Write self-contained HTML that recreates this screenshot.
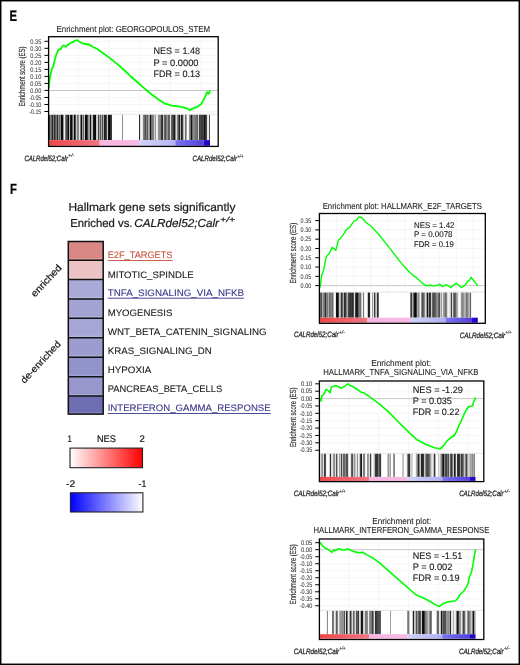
<!DOCTYPE html>
<html><head><meta charset="utf-8"><style>
html,body{margin:0;padding:0;background:#fff;}
body{width:520px;height:665px;overflow:hidden;}
svg{display:block;font-family:"Liberation Sans", sans-serif;text-rendering:geometricPrecision;will-change:transform;}
</style></head><body>
<svg width="520" height="665" viewBox="0 0 520 665">
<line x1="48.60" y1="41.30" x2="218.20" y2="41.30" stroke="#f2f2f2" stroke-width="0.7"/>
<line x1="48.60" y1="48.32" x2="218.20" y2="48.32" stroke="#f2f2f2" stroke-width="0.7"/>
<line x1="48.60" y1="55.34" x2="218.20" y2="55.34" stroke="#f2f2f2" stroke-width="0.7"/>
<line x1="48.60" y1="62.36" x2="218.20" y2="62.36" stroke="#f2f2f2" stroke-width="0.7"/>
<line x1="48.60" y1="69.38" x2="218.20" y2="69.38" stroke="#f2f2f2" stroke-width="0.7"/>
<line x1="48.60" y1="76.40" x2="218.20" y2="76.40" stroke="#f2f2f2" stroke-width="0.7"/>
<line x1="48.60" y1="83.42" x2="218.20" y2="83.42" stroke="#f2f2f2" stroke-width="0.7"/>
<line x1="48.60" y1="97.46" x2="218.20" y2="97.46" stroke="#f2f2f2" stroke-width="0.7"/>
<line x1="48.60" y1="104.48" x2="218.20" y2="104.48" stroke="#f2f2f2" stroke-width="0.7"/>
<line x1="48.60" y1="111.50" x2="218.20" y2="111.50" stroke="#f2f2f2" stroke-width="0.7"/>
<line x1="78.40" y1="36.70" x2="78.40" y2="114.80" stroke="#f2f2f2" stroke-width="0.7"/>
<line x1="109.05" y1="36.70" x2="109.05" y2="114.80" stroke="#f2f2f2" stroke-width="0.7"/>
<line x1="139.70" y1="36.70" x2="139.70" y2="114.80" stroke="#f2f2f2" stroke-width="0.7"/>
<line x1="170.35" y1="36.70" x2="170.35" y2="114.80" stroke="#f2f2f2" stroke-width="0.7"/>
<line x1="201.00" y1="36.70" x2="201.00" y2="114.80" stroke="#f2f2f2" stroke-width="0.7"/>
<line x1="48.60" y1="114.30" x2="218.20" y2="114.30" stroke="#dcdcdc" stroke-width="0.8"/>
<line x1="48.60" y1="90.50" x2="218.20" y2="90.50" stroke="#b8b8b8" stroke-width="0.8"/>
<rect x="49.00" y="114.80" width="1.00" height="25.30" fill="#3c3c3c"/>
<rect x="50.00" y="114.80" width="1.00" height="25.30" fill="#828282"/>
<rect x="51.00" y="114.80" width="1.00" height="25.30" fill="#646464"/>
<rect x="52.00" y="114.80" width="1.00" height="25.30" fill="#282828"/>
<rect x="53.00" y="114.80" width="1.00" height="25.30" fill="#787878"/>
<rect x="54.00" y="114.80" width="1.00" height="25.30" fill="#323232"/>
<rect x="55.00" y="114.80" width="1.00" height="25.30" fill="#5a5a5a"/>
<rect x="56.00" y="114.80" width="1.00" height="25.30" fill="#787878"/>
<rect x="57.00" y="114.80" width="1.00" height="25.30" fill="#282828"/>
<rect x="58.00" y="114.80" width="1.00" height="25.30" fill="#969696"/>
<rect x="59.00" y="114.80" width="1.00" height="25.30" fill="#646464"/>
<rect x="60.00" y="114.80" width="1.00" height="25.30" fill="#8c8c8c"/>
<rect x="61.00" y="114.80" width="1.00" height="25.30" fill="#0a0a0a"/>
<rect x="62.00" y="114.80" width="1.00" height="25.30" fill="#0a0a0a"/>
<rect x="63.00" y="114.80" width="1.00" height="25.30" fill="#969696"/>
<rect x="64.00" y="114.80" width="1.00" height="25.30" fill="#f0f0f0"/>
<rect x="65.00" y="114.80" width="1.00" height="25.30" fill="#787878"/>
<rect x="66.00" y="114.80" width="1.00" height="25.30" fill="#505050"/>
<rect x="67.00" y="114.80" width="1.00" height="25.30" fill="#3c3c3c"/>
<rect x="68.00" y="114.80" width="1.00" height="25.30" fill="#0a0a0a"/>
<rect x="69.00" y="114.80" width="1.00" height="25.30" fill="#b4b4b4"/>
<rect x="70.00" y="114.80" width="1.00" height="25.30" fill="#1e1e1e"/>
<rect x="71.00" y="114.80" width="1.00" height="25.30" fill="#0a0a0a"/>
<rect x="72.00" y="114.80" width="1.00" height="25.30" fill="#646464"/>
<rect x="73.00" y="114.80" width="1.00" height="25.30" fill="#aaaaaa"/>
<rect x="74.00" y="114.80" width="1.00" height="25.30" fill="#0a0a0a"/>
<rect x="75.00" y="114.80" width="1.00" height="25.30" fill="#505050"/>
<rect x="76.00" y="114.80" width="1.00" height="25.30" fill="#c8c8c8"/>
<rect x="77.00" y="114.80" width="1.00" height="25.30" fill="#828282"/>
<rect x="78.00" y="114.80" width="1.00" height="25.30" fill="#8c8c8c"/>
<rect x="79.00" y="114.80" width="1.00" height="25.30" fill="#e6e6e6"/>
<rect x="80.00" y="114.80" width="1.00" height="25.30" fill="#787878"/>
<rect x="81.00" y="114.80" width="1.00" height="25.30" fill="#0a0a0a"/>
<rect x="82.00" y="114.80" width="1.00" height="25.30" fill="#a0a0a0"/>
<rect x="83.00" y="114.80" width="1.00" height="25.30" fill="#646464"/>
<rect x="84.00" y="114.80" width="1.00" height="25.30" fill="#c8c8c8"/>
<rect x="85.00" y="114.80" width="1.00" height="25.30" fill="#0a0a0a"/>
<rect x="86.00" y="114.80" width="1.00" height="25.30" fill="#0a0a0a"/>
<rect x="87.00" y="114.80" width="1.00" height="25.30" fill="#3c3c3c"/>
<rect x="88.00" y="114.80" width="1.00" height="25.30" fill="#969696"/>
<rect x="89.00" y="114.80" width="1.00" height="25.30" fill="#a0a0a0"/>
<rect x="90.00" y="114.80" width="1.00" height="25.30" fill="#141414"/>
<rect x="91.00" y="114.80" width="1.00" height="25.30" fill="#aaaaaa"/>
<rect x="92.00" y="114.80" width="1.00" height="25.30" fill="#bebebe"/>
<rect x="93.00" y="114.80" width="1.00" height="25.30" fill="#1e1e1e"/>
<rect x="94.00" y="114.80" width="1.00" height="25.30" fill="#0a0a0a"/>
<rect x="95.00" y="114.80" width="1.00" height="25.30" fill="#0a0a0a"/>
<rect x="96.00" y="114.80" width="1.00" height="25.30" fill="#c8c8c8"/>
<rect x="97.00" y="114.80" width="1.00" height="25.30" fill="#d2d2d2"/>
<rect x="98.00" y="114.80" width="1.00" height="25.30" fill="#464646"/>
<rect x="99.00" y="114.80" width="1.00" height="25.30" fill="#a0a0a0"/>
<rect x="100.00" y="114.80" width="1.00" height="25.30" fill="#5a5a5a"/>
<rect x="101.00" y="114.80" width="1.00" height="25.30" fill="#aaaaaa"/>
<rect x="102.00" y="114.80" width="1.00" height="25.30" fill="#505050"/>
<rect x="103.00" y="114.80" width="1.00" height="25.30" fill="#aaaaaa"/>
<rect x="104.00" y="114.80" width="1.00" height="25.30" fill="#1e1e1e"/>
<rect x="105.00" y="114.80" width="1.00" height="25.30" fill="#282828"/>
<rect x="106.00" y="114.80" width="1.00" height="25.30" fill="#464646"/>
<rect x="107.00" y="114.80" width="1.00" height="25.30" fill="#c8c8c8"/>
<rect x="108.00" y="114.80" width="1.00" height="25.30" fill="#141414"/>
<rect x="109.00" y="114.80" width="1.00" height="25.30" fill="#0a0a0a"/>
<rect x="110.00" y="114.80" width="1.00" height="25.30" fill="#282828"/>
<rect x="111.00" y="114.80" width="1.00" height="25.30" fill="#3c3c3c"/>
<rect x="122.00" y="114.80" width="1.00" height="25.30" fill="#8c8c8c"/>
<rect x="139.00" y="114.80" width="1.00" height="25.30" fill="#282828"/>
<rect x="140.00" y="114.80" width="1.00" height="25.30" fill="#e6e6e6"/>
<rect x="141.00" y="114.80" width="1.00" height="25.30" fill="#f0f0f0"/>
<rect x="142.00" y="114.80" width="1.00" height="25.30" fill="#e6e6e6"/>
<rect x="143.00" y="114.80" width="1.00" height="25.30" fill="#828282"/>
<rect x="144.00" y="114.80" width="1.00" height="25.30" fill="#6e6e6e"/>
<rect x="145.00" y="114.80" width="1.00" height="25.30" fill="#505050"/>
<rect x="146.00" y="114.80" width="1.00" height="25.30" fill="#828282"/>
<rect x="147.00" y="114.80" width="1.00" height="25.30" fill="#5a5a5a"/>
<rect x="148.00" y="114.80" width="1.00" height="25.30" fill="#aaaaaa"/>
<rect x="149.00" y="114.80" width="1.00" height="25.30" fill="#969696"/>
<rect x="150.00" y="114.80" width="1.00" height="25.30" fill="#141414"/>
<rect x="151.00" y="114.80" width="1.00" height="25.30" fill="#6e6e6e"/>
<rect x="152.00" y="114.80" width="1.00" height="25.30" fill="#787878"/>
<rect x="153.00" y="114.80" width="1.00" height="25.30" fill="#828282"/>
<rect x="154.00" y="114.80" width="1.00" height="25.30" fill="#d2d2d2"/>
<rect x="155.00" y="114.80" width="1.00" height="25.30" fill="#969696"/>
<rect x="156.00" y="114.80" width="1.00" height="25.30" fill="#f0f0f0"/>
<rect x="157.00" y="114.80" width="1.00" height="25.30" fill="#e6e6e6"/>
<rect x="158.00" y="114.80" width="1.00" height="25.30" fill="#969696"/>
<rect x="159.00" y="114.80" width="1.00" height="25.30" fill="#8c8c8c"/>
<rect x="160.00" y="114.80" width="1.00" height="25.30" fill="#828282"/>
<rect x="161.00" y="114.80" width="1.00" height="25.30" fill="#3c3c3c"/>
<rect x="162.00" y="114.80" width="1.00" height="25.30" fill="#282828"/>
<rect x="163.00" y="114.80" width="1.00" height="25.30" fill="#c8c8c8"/>
<rect x="164.00" y="114.80" width="1.00" height="25.30" fill="#646464"/>
<rect x="165.00" y="114.80" width="1.00" height="25.30" fill="#505050"/>
<rect x="166.00" y="114.80" width="1.00" height="25.30" fill="#828282"/>
<rect x="167.00" y="114.80" width="1.00" height="25.30" fill="#969696"/>
<rect x="168.00" y="114.80" width="1.00" height="25.30" fill="#5a5a5a"/>
<rect x="169.00" y="114.80" width="1.00" height="25.30" fill="#646464"/>
<rect x="170.00" y="114.80" width="1.00" height="25.30" fill="#dcdcdc"/>
<rect x="171.00" y="114.80" width="1.00" height="25.30" fill="#646464"/>
<rect x="172.00" y="114.80" width="1.00" height="25.30" fill="#505050"/>
<rect x="173.00" y="114.80" width="1.00" height="25.30" fill="#3c3c3c"/>
<rect x="174.00" y="114.80" width="1.00" height="25.30" fill="#141414"/>
<rect x="175.00" y="114.80" width="1.00" height="25.30" fill="#8c8c8c"/>
<rect x="176.00" y="114.80" width="1.00" height="25.30" fill="#dcdcdc"/>
<rect x="177.00" y="114.80" width="1.00" height="25.30" fill="#828282"/>
<rect x="178.00" y="114.80" width="1.00" height="25.30" fill="#5a5a5a"/>
<rect x="179.00" y="114.80" width="1.00" height="25.30" fill="#1e1e1e"/>
<rect x="180.00" y="114.80" width="1.00" height="25.30" fill="#b4b4b4"/>
<rect x="181.00" y="114.80" width="1.00" height="25.30" fill="#1e1e1e"/>
<rect x="182.00" y="114.80" width="1.00" height="25.30" fill="#3c3c3c"/>
<rect x="183.00" y="114.80" width="1.00" height="25.30" fill="#b4b4b4"/>
<rect x="184.00" y="114.80" width="1.00" height="25.30" fill="#e6e6e6"/>
<rect x="185.00" y="114.80" width="1.00" height="25.30" fill="#6e6e6e"/>
<rect x="186.00" y="114.80" width="1.00" height="25.30" fill="#a0a0a0"/>
<rect x="188.00" y="114.80" width="1.00" height="25.30" fill="#f0f0f0"/>
<rect x="189.00" y="114.80" width="1.00" height="25.30" fill="#8c8c8c"/>
<rect x="190.00" y="114.80" width="1.00" height="25.30" fill="#6e6e6e"/>
<rect x="191.00" y="114.80" width="1.00" height="25.30" fill="#141414"/>
<rect x="192.00" y="114.80" width="1.00" height="25.30" fill="#6e6e6e"/>
<rect x="193.00" y="114.80" width="1.00" height="25.30" fill="#8c8c8c"/>
<rect x="194.00" y="114.80" width="1.00" height="25.30" fill="#828282"/>
<rect x="195.00" y="114.80" width="1.00" height="25.30" fill="#787878"/>
<rect x="196.00" y="114.80" width="1.00" height="25.30" fill="#6e6e6e"/>
<rect x="197.00" y="114.80" width="1.00" height="25.30" fill="#646464"/>
<rect x="198.00" y="114.80" width="1.00" height="25.30" fill="#d2d2d2"/>
<rect x="199.00" y="114.80" width="1.00" height="25.30" fill="#3c3c3c"/>
<rect x="200.00" y="114.80" width="1.00" height="25.30" fill="#464646"/>
<rect x="201.00" y="114.80" width="1.00" height="25.30" fill="#3c3c3c"/>
<rect x="202.00" y="114.80" width="1.00" height="25.30" fill="#3c3c3c"/>
<rect x="203.00" y="114.80" width="1.00" height="25.30" fill="#464646"/>
<rect x="204.00" y="114.80" width="1.00" height="25.30" fill="#141414"/>
<rect x="205.00" y="114.80" width="1.00" height="25.30" fill="#323232"/>
<rect x="206.00" y="114.80" width="1.00" height="25.30" fill="#464646"/>
<rect x="207.00" y="114.80" width="1.00" height="25.30" fill="#e6e6e6"/>
<rect x="208.00" y="114.80" width="1.00" height="25.30" fill="#f0f0f0"/>
<rect x="209.00" y="114.80" width="1.00" height="25.30" fill="#505050"/>
<linearGradient id="g151" x1="0" x2="1" y1="0" y2="0"><stop offset="0" stop-color="#f04646"/><stop offset="1" stop-color="#f07684"/></linearGradient>
<rect x="48.80" y="140.10" width="50.90" height="5.70" fill="url(#g151)"/>
<linearGradient id="g153" x1="0" x2="1" y1="0" y2="0"><stop offset="0" stop-color="#f8b6e2"/><stop offset="1" stop-color="#f8b8e4"/></linearGradient>
<rect x="99.70" y="140.10" width="39.50" height="5.70" fill="url(#g153)"/>
<linearGradient id="g155" x1="0" x2="1" y1="0" y2="0"><stop offset="0" stop-color="#d2d2f8"/><stop offset="1" stop-color="#b4b2f4"/></linearGradient>
<rect x="139.20" y="140.10" width="36.10" height="5.70" fill="url(#g155)"/>
<linearGradient id="g157" x1="0" x2="1" y1="0" y2="0"><stop offset="0" stop-color="#7a74ee"/><stop offset="1" stop-color="#5040e0"/></linearGradient>
<rect x="175.30" y="140.10" width="28.20" height="5.70" fill="url(#g157)"/>
<linearGradient id="g159" x1="0" x2="1" y1="0" y2="0"><stop offset="0" stop-color="#2a08c8"/><stop offset="1" stop-color="#2000c4"/></linearGradient>
<rect x="203.50" y="140.10" width="6.50" height="5.70" fill="url(#g159)"/>
<polyline points="48.8,88.5 48.9,85.2 49.8,78.3 51.1,72.2 51.9,68.7 53.3,66.2 54.5,61.0 56.2,54.9 58.5,49.7 60.6,49.2 62.3,46.2 64.0,45.4 65.8,46.8 68.4,44.5 71.0,42.8 73.6,41.6 76.2,40.2 77.9,40.5 79.6,41.9 82.2,43.3 85.7,44.0 89.1,44.5 92.6,46.8 96.9,48.8 103.8,53.7 110.8,58.9 117.7,64.4 124.6,70.5 130.0,75.7 136.9,81.7 143.8,87.8 150.8,93.8 157.7,99.0 164.6,103.4 171.5,105.6 178.5,106.3 183.7,107.3 187.1,108.6 189.7,110.3 192.3,108.6 197.5,106.8 201.0,104.2 203.6,99.9 205.3,96.4 207.0,92.1 208.7,93.8 210.0,90.4" fill="none" stroke="#00ff00" stroke-width="1.8" stroke-linejoin="round"/>
<rect x="48.60" y="36.70" width="169.60" height="109.70" fill="none" stroke="#000" stroke-width="1.3"/>
<line x1="44.40" y1="41.30" x2="48.60" y2="41.30" stroke="#000" stroke-width="1.0"/>
<text x="41.30" y="43.55" font-size="6.6" fill="#333" stroke="#333" stroke-width="0.05" text-anchor="end" textLength="11.00" lengthAdjust="spacingAndGlyphs">0.35</text>
<line x1="44.40" y1="48.32" x2="48.60" y2="48.32" stroke="#000" stroke-width="1.0"/>
<text x="41.30" y="50.57" font-size="6.6" fill="#333" stroke="#333" stroke-width="0.05" text-anchor="end" textLength="11.00" lengthAdjust="spacingAndGlyphs">0.30</text>
<line x1="44.40" y1="55.34" x2="48.60" y2="55.34" stroke="#000" stroke-width="1.0"/>
<text x="41.30" y="57.59" font-size="6.6" fill="#333" stroke="#333" stroke-width="0.05" text-anchor="end" textLength="11.00" lengthAdjust="spacingAndGlyphs">0.25</text>
<line x1="44.40" y1="62.36" x2="48.60" y2="62.36" stroke="#000" stroke-width="1.0"/>
<text x="41.30" y="64.61" font-size="6.6" fill="#333" stroke="#333" stroke-width="0.05" text-anchor="end" textLength="11.00" lengthAdjust="spacingAndGlyphs">0.20</text>
<line x1="44.40" y1="69.38" x2="48.60" y2="69.38" stroke="#000" stroke-width="1.0"/>
<text x="41.30" y="71.63" font-size="6.6" fill="#333" stroke="#333" stroke-width="0.05" text-anchor="end" textLength="11.00" lengthAdjust="spacingAndGlyphs">0.15</text>
<line x1="44.40" y1="76.40" x2="48.60" y2="76.40" stroke="#000" stroke-width="1.0"/>
<text x="41.30" y="78.65" font-size="6.6" fill="#333" stroke="#333" stroke-width="0.05" text-anchor="end" textLength="11.00" lengthAdjust="spacingAndGlyphs">0.10</text>
<line x1="44.40" y1="83.42" x2="48.60" y2="83.42" stroke="#000" stroke-width="1.0"/>
<text x="41.30" y="85.67" font-size="6.6" fill="#333" stroke="#333" stroke-width="0.05" text-anchor="end" textLength="11.00" lengthAdjust="spacingAndGlyphs">0.05</text>
<line x1="44.40" y1="90.44" x2="48.60" y2="90.44" stroke="#000" stroke-width="1.0"/>
<text x="41.30" y="92.69" font-size="6.6" fill="#333" stroke="#333" stroke-width="0.05" text-anchor="end" textLength="11.00" lengthAdjust="spacingAndGlyphs">0.00</text>
<line x1="44.40" y1="97.46" x2="48.60" y2="97.46" stroke="#000" stroke-width="1.0"/>
<text x="41.30" y="99.71" font-size="6.6" fill="#333" stroke="#333" stroke-width="0.05" text-anchor="end" textLength="12.10" lengthAdjust="spacingAndGlyphs">-0.05</text>
<line x1="44.40" y1="104.48" x2="48.60" y2="104.48" stroke="#000" stroke-width="1.0"/>
<text x="41.30" y="106.73" font-size="6.6" fill="#333" stroke="#333" stroke-width="0.05" text-anchor="end" textLength="12.10" lengthAdjust="spacingAndGlyphs">-0.10</text>
<line x1="44.40" y1="111.50" x2="48.60" y2="111.50" stroke="#000" stroke-width="1.0"/>
<text x="41.30" y="113.75" font-size="6.6" fill="#333" stroke="#333" stroke-width="0.05" text-anchor="end" textLength="12.10" lengthAdjust="spacingAndGlyphs">-0.15</text>
<text x="25.20" y="76.50" font-size="8.8" fill="#2a2a2a" stroke="#2a2a2a" stroke-width="0.15" text-anchor="middle" textLength="60.00" lengthAdjust="spacingAndGlyphs" transform="rotate(-90 25.20 76.50)">Enrichment score (ES)</text>
<text x="56.60" y="31.70" font-size="8.7" fill="#1a1a1a" stroke="#1a1a1a" stroke-width="0.08" textLength="153.50" lengthAdjust="spacingAndGlyphs">Enrichment plot: GEORGOPOULOS_STEM</text>
<text x="153.40" y="54.40" font-size="9.3" fill="#1a1a1a" stroke="#1a1a1a" stroke-width="0.12" textLength="46.70" lengthAdjust="spacingAndGlyphs">NES = 1.48</text>
<text x="153.40" y="65.60" font-size="9.3" fill="#1a1a1a" stroke="#1a1a1a" stroke-width="0.12" textLength="45.10" lengthAdjust="spacingAndGlyphs">P = 0.0000</text>
<text x="153.40" y="76.50" font-size="9.3" fill="#1a1a1a" stroke="#1a1a1a" stroke-width="0.12" textLength="46.70" lengthAdjust="spacingAndGlyphs">FDR = 0.13</text>
<text x="24.40" y="160.50" font-size="7.8" fill="#2a2a2a" stroke="#2a2a2a" stroke-width="0.3" font-style="italic" textLength="43.50" lengthAdjust="spacingAndGlyphs">CALRdel52;Calr</text>
<text x="68.30" y="157.20" font-size="5.4" fill="#333" stroke="#333" stroke-width="0.15" font-style="italic" textLength="5.90" lengthAdjust="spacingAndGlyphs">+/-</text>
<text x="192.50" y="160.80" font-size="7.8" fill="#2a2a2a" stroke="#2a2a2a" stroke-width="0.3" font-style="italic" textLength="44.50" lengthAdjust="spacingAndGlyphs">CALRdel52;Calr</text>
<text x="237.40" y="157.50" font-size="5.4" fill="#333" stroke="#333" stroke-width="0.15" font-style="italic" textLength="5.90" lengthAdjust="spacingAndGlyphs">+/+</text>
<line x1="319.40" y1="220.60" x2="485.30" y2="220.60" stroke="#f2f2f2" stroke-width="0.7"/>
<line x1="319.40" y1="229.89" x2="485.30" y2="229.89" stroke="#f2f2f2" stroke-width="0.7"/>
<line x1="319.40" y1="239.18" x2="485.30" y2="239.18" stroke="#f2f2f2" stroke-width="0.7"/>
<line x1="319.40" y1="248.47" x2="485.30" y2="248.47" stroke="#f2f2f2" stroke-width="0.7"/>
<line x1="319.40" y1="257.76" x2="485.30" y2="257.76" stroke="#f2f2f2" stroke-width="0.7"/>
<line x1="319.40" y1="267.05" x2="485.30" y2="267.05" stroke="#f2f2f2" stroke-width="0.7"/>
<line x1="319.40" y1="276.34" x2="485.30" y2="276.34" stroke="#f2f2f2" stroke-width="0.7"/>
<line x1="336.60" y1="213.50" x2="336.60" y2="292.60" stroke="#f2f2f2" stroke-width="0.7"/>
<line x1="353.70" y1="213.50" x2="353.70" y2="292.60" stroke="#f2f2f2" stroke-width="0.7"/>
<line x1="370.80" y1="213.50" x2="370.80" y2="292.60" stroke="#f2f2f2" stroke-width="0.7"/>
<line x1="387.90" y1="213.50" x2="387.90" y2="292.60" stroke="#f2f2f2" stroke-width="0.7"/>
<line x1="405.00" y1="213.50" x2="405.00" y2="292.60" stroke="#f2f2f2" stroke-width="0.7"/>
<line x1="422.10" y1="213.50" x2="422.10" y2="292.60" stroke="#f2f2f2" stroke-width="0.7"/>
<line x1="439.20" y1="213.50" x2="439.20" y2="292.60" stroke="#f2f2f2" stroke-width="0.7"/>
<line x1="456.30" y1="213.50" x2="456.30" y2="292.60" stroke="#f2f2f2" stroke-width="0.7"/>
<line x1="473.40" y1="213.50" x2="473.40" y2="292.60" stroke="#f2f2f2" stroke-width="0.7"/>
<line x1="319.40" y1="292.10" x2="485.30" y2="292.10" stroke="#dcdcdc" stroke-width="0.8"/>
<line x1="319.40" y1="285.60" x2="485.30" y2="285.60" stroke="#b8b8b8" stroke-width="0.8"/>
<rect x="320.00" y="292.60" width="1.00" height="25.10" fill="#646464"/>
<rect x="321.00" y="292.60" width="1.00" height="25.10" fill="#505050"/>
<rect x="322.00" y="292.60" width="1.00" height="25.10" fill="#aaaaaa"/>
<rect x="323.00" y="292.60" width="1.00" height="25.10" fill="#828282"/>
<rect x="324.00" y="292.60" width="1.00" height="25.10" fill="#6e6e6e"/>
<rect x="325.00" y="292.60" width="1.00" height="25.10" fill="#323232"/>
<rect x="326.00" y="292.60" width="1.00" height="25.10" fill="#828282"/>
<rect x="327.00" y="292.60" width="1.00" height="25.10" fill="#787878"/>
<rect x="328.00" y="292.60" width="1.00" height="25.10" fill="#aaaaaa"/>
<rect x="329.00" y="292.60" width="1.00" height="25.10" fill="#6e6e6e"/>
<rect x="330.00" y="292.60" width="1.00" height="25.10" fill="#787878"/>
<rect x="331.00" y="292.60" width="1.00" height="25.10" fill="#828282"/>
<rect x="332.00" y="292.60" width="1.00" height="25.10" fill="#6e6e6e"/>
<rect x="333.00" y="292.60" width="1.00" height="25.10" fill="#aaaaaa"/>
<rect x="335.00" y="292.60" width="1.00" height="25.10" fill="#e6e6e6"/>
<rect x="336.00" y="292.60" width="1.00" height="25.10" fill="#141414"/>
<rect x="337.00" y="292.60" width="1.00" height="25.10" fill="#0a0a0a"/>
<rect x="338.00" y="292.60" width="1.00" height="25.10" fill="#3c3c3c"/>
<rect x="339.00" y="292.60" width="1.00" height="25.10" fill="#c8c8c8"/>
<rect x="340.00" y="292.60" width="1.00" height="25.10" fill="#aaaaaa"/>
<rect x="341.00" y="292.60" width="1.00" height="25.10" fill="#323232"/>
<rect x="342.00" y="292.60" width="1.00" height="25.10" fill="#646464"/>
<rect x="343.00" y="292.60" width="1.00" height="25.10" fill="#aaaaaa"/>
<rect x="344.00" y="292.60" width="1.00" height="25.10" fill="#282828"/>
<rect x="345.00" y="292.60" width="1.00" height="25.10" fill="#3c3c3c"/>
<rect x="346.00" y="292.60" width="1.00" height="25.10" fill="#828282"/>
<rect x="347.00" y="292.60" width="1.00" height="25.10" fill="#aaaaaa"/>
<rect x="348.00" y="292.60" width="1.00" height="25.10" fill="#464646"/>
<rect x="349.00" y="292.60" width="1.00" height="25.10" fill="#3c3c3c"/>
<rect x="350.00" y="292.60" width="1.00" height="25.10" fill="#323232"/>
<rect x="351.00" y="292.60" width="1.00" height="25.10" fill="#3c3c3c"/>
<rect x="352.00" y="292.60" width="1.00" height="25.10" fill="#282828"/>
<rect x="353.00" y="292.60" width="1.00" height="25.10" fill="#505050"/>
<rect x="354.00" y="292.60" width="1.00" height="25.10" fill="#dcdcdc"/>
<rect x="355.00" y="292.60" width="1.00" height="25.10" fill="#3c3c3c"/>
<rect x="356.00" y="292.60" width="1.00" height="25.10" fill="#1e1e1e"/>
<rect x="357.00" y="292.60" width="1.00" height="25.10" fill="#141414"/>
<rect x="358.00" y="292.60" width="1.00" height="25.10" fill="#646464"/>
<rect x="359.00" y="292.60" width="1.00" height="25.10" fill="#787878"/>
<rect x="360.00" y="292.60" width="1.00" height="25.10" fill="#6e6e6e"/>
<rect x="361.00" y="292.60" width="1.00" height="25.10" fill="#c8c8c8"/>
<rect x="362.00" y="292.60" width="1.00" height="25.10" fill="#f0f0f0"/>
<rect x="363.00" y="292.60" width="1.00" height="25.10" fill="#787878"/>
<rect x="364.00" y="292.60" width="1.00" height="25.10" fill="#f0f0f0"/>
<rect x="367.00" y="292.60" width="1.00" height="25.10" fill="#c8c8c8"/>
<rect x="368.00" y="292.60" width="1.00" height="25.10" fill="#1e1e1e"/>
<rect x="369.00" y="292.60" width="1.00" height="25.10" fill="#282828"/>
<rect x="370.00" y="292.60" width="1.00" height="25.10" fill="#e6e6e6"/>
<rect x="372.00" y="292.60" width="1.00" height="25.10" fill="#969696"/>
<rect x="373.00" y="292.60" width="1.00" height="25.10" fill="#e6e6e6"/>
<rect x="374.00" y="292.60" width="1.00" height="25.10" fill="#3c3c3c"/>
<rect x="375.00" y="292.60" width="1.00" height="25.10" fill="#a0a0a0"/>
<rect x="376.00" y="292.60" width="1.00" height="25.10" fill="#c8c8c8"/>
<rect x="377.00" y="292.60" width="1.00" height="25.10" fill="#323232"/>
<rect x="378.00" y="292.60" width="1.00" height="25.10" fill="#646464"/>
<rect x="410.00" y="292.60" width="1.00" height="25.10" fill="#787878"/>
<rect x="411.00" y="292.60" width="1.00" height="25.10" fill="#3c3c3c"/>
<rect x="412.00" y="292.60" width="1.00" height="25.10" fill="#b4b4b4"/>
<rect x="413.00" y="292.60" width="1.00" height="25.10" fill="#646464"/>
<rect x="414.00" y="292.60" width="1.00" height="25.10" fill="#141414"/>
<rect x="415.00" y="292.60" width="1.00" height="25.10" fill="#0a0a0a"/>
<rect x="416.00" y="292.60" width="1.00" height="25.10" fill="#3c3c3c"/>
<rect x="417.00" y="292.60" width="1.00" height="25.10" fill="#aaaaaa"/>
<rect x="418.00" y="292.60" width="1.00" height="25.10" fill="#8c8c8c"/>
<rect x="419.00" y="292.60" width="1.00" height="25.10" fill="#bebebe"/>
<rect x="420.00" y="292.60" width="1.00" height="25.10" fill="#f0f0f0"/>
<rect x="421.00" y="292.60" width="1.00" height="25.10" fill="#8c8c8c"/>
<rect x="422.00" y="292.60" width="1.00" height="25.10" fill="#505050"/>
<rect x="423.00" y="292.60" width="1.00" height="25.10" fill="#646464"/>
<rect x="424.00" y="292.60" width="1.00" height="25.10" fill="#8c8c8c"/>
<rect x="425.00" y="292.60" width="1.00" height="25.10" fill="#dcdcdc"/>
<rect x="426.00" y="292.60" width="1.00" height="25.10" fill="#a0a0a0"/>
<rect x="427.00" y="292.60" width="1.00" height="25.10" fill="#141414"/>
<rect x="428.00" y="292.60" width="1.00" height="25.10" fill="#969696"/>
<rect x="429.00" y="292.60" width="1.00" height="25.10" fill="#282828"/>
<rect x="430.00" y="292.60" width="1.00" height="25.10" fill="#3c3c3c"/>
<rect x="431.00" y="292.60" width="1.00" height="25.10" fill="#c8c8c8"/>
<rect x="432.00" y="292.60" width="1.00" height="25.10" fill="#646464"/>
<rect x="433.00" y="292.60" width="1.00" height="25.10" fill="#505050"/>
<rect x="434.00" y="292.60" width="1.00" height="25.10" fill="#505050"/>
<rect x="435.00" y="292.60" width="1.00" height="25.10" fill="#646464"/>
<rect x="436.00" y="292.60" width="1.00" height="25.10" fill="#828282"/>
<rect x="437.00" y="292.60" width="1.00" height="25.10" fill="#969696"/>
<rect x="438.00" y="292.60" width="1.00" height="25.10" fill="#646464"/>
<rect x="439.00" y="292.60" width="1.00" height="25.10" fill="#505050"/>
<rect x="440.00" y="292.60" width="1.00" height="25.10" fill="#c8c8c8"/>
<rect x="441.00" y="292.60" width="1.00" height="25.10" fill="#a0a0a0"/>
<rect x="442.00" y="292.60" width="1.00" height="25.10" fill="#e6e6e6"/>
<rect x="443.00" y="292.60" width="1.00" height="25.10" fill="#a0a0a0"/>
<rect x="444.00" y="292.60" width="1.00" height="25.10" fill="#8c8c8c"/>
<rect x="445.00" y="292.60" width="1.00" height="25.10" fill="#6e6e6e"/>
<rect x="446.00" y="292.60" width="1.00" height="25.10" fill="#828282"/>
<rect x="447.00" y="292.60" width="1.00" height="25.10" fill="#dcdcdc"/>
<rect x="448.00" y="292.60" width="1.00" height="25.10" fill="#f0f0f0"/>
<rect x="449.00" y="292.60" width="1.00" height="25.10" fill="#e6e6e6"/>
<rect x="450.00" y="292.60" width="1.00" height="25.10" fill="#c8c8c8"/>
<rect x="451.00" y="292.60" width="1.00" height="25.10" fill="#3c3c3c"/>
<rect x="452.00" y="292.60" width="1.00" height="25.10" fill="#dcdcdc"/>
<rect x="453.00" y="292.60" width="1.00" height="25.10" fill="#787878"/>
<rect x="454.00" y="292.60" width="1.00" height="25.10" fill="#505050"/>
<rect x="455.00" y="292.60" width="1.00" height="25.10" fill="#646464"/>
<rect x="456.00" y="292.60" width="1.00" height="25.10" fill="#969696"/>
<rect x="457.00" y="292.60" width="1.00" height="25.10" fill="#b4b4b4"/>
<rect x="458.00" y="292.60" width="1.00" height="25.10" fill="#f0f0f0"/>
<rect x="460.00" y="292.60" width="1.00" height="25.10" fill="#e6e6e6"/>
<rect x="461.00" y="292.60" width="1.00" height="25.10" fill="#969696"/>
<rect x="462.00" y="292.60" width="1.00" height="25.10" fill="#828282"/>
<rect x="463.00" y="292.60" width="1.00" height="25.10" fill="#969696"/>
<rect x="464.00" y="292.60" width="1.00" height="25.10" fill="#b4b4b4"/>
<rect x="465.00" y="292.60" width="1.00" height="25.10" fill="#aaaaaa"/>
<rect x="466.00" y="292.60" width="1.00" height="25.10" fill="#787878"/>
<rect x="467.00" y="292.60" width="1.00" height="25.10" fill="#828282"/>
<rect x="468.00" y="292.60" width="1.00" height="25.10" fill="#aaaaaa"/>
<rect x="469.00" y="292.60" width="1.00" height="25.10" fill="#b4b4b4"/>
<rect x="470.00" y="292.60" width="1.00" height="25.10" fill="#646464"/>
<rect x="471.00" y="292.60" width="1.00" height="25.10" fill="#f0f0f0"/>
<linearGradient id="g328" x1="0" x2="1" y1="0" y2="0"><stop offset="0" stop-color="#f04646"/><stop offset="1" stop-color="#f07684"/></linearGradient>
<rect x="320.00" y="317.70" width="47.30" height="5.00" fill="url(#g328)"/>
<linearGradient id="g330" x1="0" x2="1" y1="0" y2="0"><stop offset="0" stop-color="#f8b6e2"/><stop offset="1" stop-color="#f8b8e4"/></linearGradient>
<rect x="367.30" y="317.70" width="43.70" height="5.00" fill="url(#g330)"/>
<linearGradient id="g332" x1="0" x2="1" y1="0" y2="0"><stop offset="0" stop-color="#d2d2f8"/><stop offset="1" stop-color="#b0aef4"/></linearGradient>
<rect x="411.00" y="317.70" width="35.00" height="5.00" fill="url(#g332)"/>
<linearGradient id="g334" x1="0" x2="1" y1="0" y2="0"><stop offset="0" stop-color="#7a74ee"/><stop offset="1" stop-color="#5040e0"/></linearGradient>
<rect x="446.00" y="317.70" width="26.00" height="5.00" fill="url(#g334)"/>
<linearGradient id="g336" x1="0" x2="1" y1="0" y2="0"><stop offset="0" stop-color="#2a08c8"/><stop offset="1" stop-color="#2000c4"/></linearGradient>
<rect x="472.00" y="317.70" width="5.80" height="5.00" fill="url(#g336)"/>
<polyline points="320.2,287.5 321.6,275.8 323.7,269.7 326.2,256.7 328.8,254.1 332.3,247.2 335.8,250.2 338.4,240.3 341.0,237.7 343.6,234.2 346.2,229.9 349.6,227.3 353.9,221.2 356.5,220.4 358.8,216.9 361.9,217.7 365.8,222.3 368.8,224.6 370.4,225.4 378.1,233.8 385.8,243.1 393.5,253.1 401.2,263.1 408.8,271.5 414.2,276.2 416.5,277.7 421.2,282.3 425.8,285.6 430.3,285.3 434.6,285.9 437.2,285.3 439.8,284.1 442.4,286.7 445.9,284.7 448.5,285.9 451.0,287.6 453.7,285.0 456.2,283.0 458.8,285.3 461.4,287.6 464.9,285.3 467.5,281.5 469.2,280.7 471.0,277.2 477.9,285.9" fill="none" stroke="#00ff00" stroke-width="1.4" stroke-linejoin="round"/>
<rect x="319.40" y="213.50" width="165.90" height="109.80" fill="none" stroke="#000" stroke-width="1.3"/>
<line x1="315.20" y1="220.60" x2="319.40" y2="220.60" stroke="#000" stroke-width="1.0"/>
<text x="311.20" y="222.85" font-size="6.6" fill="#333" stroke="#333" stroke-width="0.05" text-anchor="end" textLength="10.60" lengthAdjust="spacingAndGlyphs">0.35</text>
<line x1="315.20" y1="229.89" x2="319.40" y2="229.89" stroke="#000" stroke-width="1.0"/>
<text x="311.20" y="232.14" font-size="6.6" fill="#333" stroke="#333" stroke-width="0.05" text-anchor="end" textLength="10.60" lengthAdjust="spacingAndGlyphs">0.30</text>
<line x1="315.20" y1="239.18" x2="319.40" y2="239.18" stroke="#000" stroke-width="1.0"/>
<text x="311.20" y="241.43" font-size="6.6" fill="#333" stroke="#333" stroke-width="0.05" text-anchor="end" textLength="10.60" lengthAdjust="spacingAndGlyphs">0.25</text>
<line x1="315.20" y1="248.47" x2="319.40" y2="248.47" stroke="#000" stroke-width="1.0"/>
<text x="311.20" y="250.72" font-size="6.6" fill="#333" stroke="#333" stroke-width="0.05" text-anchor="end" textLength="10.60" lengthAdjust="spacingAndGlyphs">0.20</text>
<line x1="315.20" y1="257.76" x2="319.40" y2="257.76" stroke="#000" stroke-width="1.0"/>
<text x="311.20" y="260.01" font-size="6.6" fill="#333" stroke="#333" stroke-width="0.05" text-anchor="end" textLength="10.60" lengthAdjust="spacingAndGlyphs">0.15</text>
<line x1="315.20" y1="267.05" x2="319.40" y2="267.05" stroke="#000" stroke-width="1.0"/>
<text x="311.20" y="269.30" font-size="6.6" fill="#333" stroke="#333" stroke-width="0.05" text-anchor="end" textLength="10.60" lengthAdjust="spacingAndGlyphs">0.10</text>
<line x1="315.20" y1="276.34" x2="319.40" y2="276.34" stroke="#000" stroke-width="1.0"/>
<text x="311.20" y="278.59" font-size="6.6" fill="#333" stroke="#333" stroke-width="0.05" text-anchor="end" textLength="10.60" lengthAdjust="spacingAndGlyphs">0.05</text>
<line x1="315.20" y1="285.63" x2="319.40" y2="285.63" stroke="#000" stroke-width="1.0"/>
<text x="311.20" y="287.88" font-size="6.6" fill="#333" stroke="#333" stroke-width="0.05" text-anchor="end" textLength="10.60" lengthAdjust="spacingAndGlyphs">0.00</text>
<text x="295.90" y="253.20" font-size="8.8" fill="#2a2a2a" stroke="#2a2a2a" stroke-width="0.15" text-anchor="middle" textLength="60.70" lengthAdjust="spacingAndGlyphs" transform="rotate(-90 295.90 253.20)">Enrichment score (ES)</text>
<text x="322.70" y="208.50" font-size="8.7" fill="#1a1a1a" stroke="#1a1a1a" stroke-width="0.08" textLength="159.30" lengthAdjust="spacingAndGlyphs">Enrichment plot: HALLMARK_E2F_TARGETS</text>
<text x="414.00" y="227.90" font-size="8.3" fill="#1a1a1a" stroke="#1a1a1a" stroke-width="0.12" textLength="40.40" lengthAdjust="spacingAndGlyphs">NES = 1.42</text>
<text x="414.00" y="237.10" font-size="8.3" fill="#1a1a1a" stroke="#1a1a1a" stroke-width="0.12" textLength="38.50" lengthAdjust="spacingAndGlyphs">P = 0.0078</text>
<text x="414.00" y="246.70" font-size="8.3" fill="#1a1a1a" stroke="#1a1a1a" stroke-width="0.12" textLength="39.80" lengthAdjust="spacingAndGlyphs">FDR = 0.19</text>
<text x="294.00" y="337.40" font-size="7.8" fill="#2a2a2a" stroke="#2a2a2a" stroke-width="0.3" font-style="italic" textLength="44.50" lengthAdjust="spacingAndGlyphs">CALRdel52;Calr</text>
<text x="338.90" y="334.10" font-size="5.4" fill="#333" stroke="#333" stroke-width="0.15" font-style="italic" textLength="5.90" lengthAdjust="spacingAndGlyphs">+/-</text>
<text x="459.70" y="337.70" font-size="7.8" fill="#2a2a2a" stroke="#2a2a2a" stroke-width="0.3" font-style="italic" textLength="45.50" lengthAdjust="spacingAndGlyphs">CALRdel52;Calr</text>
<text x="505.60" y="334.40" font-size="5.4" fill="#333" stroke="#333" stroke-width="0.15" font-style="italic" textLength="5.90" lengthAdjust="spacingAndGlyphs">+/+</text>
<line x1="319.40" y1="383.80" x2="483.80" y2="383.80" stroke="#f2f2f2" stroke-width="0.7"/>
<line x1="319.40" y1="391.18" x2="483.80" y2="391.18" stroke="#f2f2f2" stroke-width="0.7"/>
<line x1="319.40" y1="405.94" x2="483.80" y2="405.94" stroke="#f2f2f2" stroke-width="0.7"/>
<line x1="319.40" y1="413.32" x2="483.80" y2="413.32" stroke="#f2f2f2" stroke-width="0.7"/>
<line x1="319.40" y1="420.70" x2="483.80" y2="420.70" stroke="#f2f2f2" stroke-width="0.7"/>
<line x1="319.40" y1="428.08" x2="483.80" y2="428.08" stroke="#f2f2f2" stroke-width="0.7"/>
<line x1="319.40" y1="435.46" x2="483.80" y2="435.46" stroke="#f2f2f2" stroke-width="0.7"/>
<line x1="319.40" y1="442.84" x2="483.80" y2="442.84" stroke="#f2f2f2" stroke-width="0.7"/>
<line x1="319.40" y1="450.22" x2="483.80" y2="450.22" stroke="#f2f2f2" stroke-width="0.7"/>
<line x1="348.80" y1="381.00" x2="348.80" y2="453.80" stroke="#f2f2f2" stroke-width="0.7"/>
<line x1="378.70" y1="381.00" x2="378.70" y2="453.80" stroke="#f2f2f2" stroke-width="0.7"/>
<line x1="408.60" y1="381.00" x2="408.60" y2="453.80" stroke="#f2f2f2" stroke-width="0.7"/>
<line x1="438.50" y1="381.00" x2="438.50" y2="453.80" stroke="#f2f2f2" stroke-width="0.7"/>
<line x1="468.40" y1="381.00" x2="468.40" y2="453.80" stroke="#f2f2f2" stroke-width="0.7"/>
<line x1="319.40" y1="453.30" x2="483.80" y2="453.30" stroke="#dcdcdc" stroke-width="0.8"/>
<line x1="319.40" y1="398.60" x2="483.80" y2="398.60" stroke="#b8b8b8" stroke-width="0.8"/>
<rect x="320.00" y="453.80" width="1.00" height="23.10" fill="#e6e6e6"/>
<rect x="321.00" y="453.80" width="1.00" height="23.10" fill="#a0a0a0"/>
<rect x="322.00" y="453.80" width="1.00" height="23.10" fill="#969696"/>
<rect x="323.00" y="453.80" width="1.00" height="23.10" fill="#dcdcdc"/>
<rect x="324.00" y="453.80" width="1.00" height="23.10" fill="#3c3c3c"/>
<rect x="325.00" y="453.80" width="1.00" height="23.10" fill="#505050"/>
<rect x="326.00" y="453.80" width="1.00" height="23.10" fill="#f0f0f0"/>
<rect x="329.00" y="453.80" width="1.00" height="23.10" fill="#c8c8c8"/>
<rect x="330.00" y="453.80" width="1.00" height="23.10" fill="#323232"/>
<rect x="331.00" y="453.80" width="1.00" height="23.10" fill="#dcdcdc"/>
<rect x="332.00" y="453.80" width="1.00" height="23.10" fill="#e6e6e6"/>
<rect x="333.00" y="453.80" width="1.00" height="23.10" fill="#969696"/>
<rect x="334.00" y="453.80" width="1.00" height="23.10" fill="#8c8c8c"/>
<rect x="335.00" y="453.80" width="1.00" height="23.10" fill="#dcdcdc"/>
<rect x="336.00" y="453.80" width="1.00" height="23.10" fill="#505050"/>
<rect x="337.00" y="453.80" width="1.00" height="23.10" fill="#b4b4b4"/>
<rect x="338.00" y="453.80" width="1.00" height="23.10" fill="#f0f0f0"/>
<rect x="339.00" y="453.80" width="1.00" height="23.10" fill="#a0a0a0"/>
<rect x="340.00" y="453.80" width="1.00" height="23.10" fill="#c8c8c8"/>
<rect x="341.00" y="453.80" width="1.00" height="23.10" fill="#464646"/>
<rect x="342.00" y="453.80" width="1.00" height="23.10" fill="#bebebe"/>
<rect x="343.00" y="453.80" width="1.00" height="23.10" fill="#646464"/>
<rect x="344.00" y="453.80" width="1.00" height="23.10" fill="#646464"/>
<rect x="345.00" y="453.80" width="1.00" height="23.10" fill="#8c8c8c"/>
<rect x="346.00" y="453.80" width="1.00" height="23.10" fill="#505050"/>
<rect x="347.00" y="453.80" width="1.00" height="23.10" fill="#505050"/>
<rect x="348.00" y="453.80" width="1.00" height="23.10" fill="#dcdcdc"/>
<rect x="350.00" y="453.80" width="1.00" height="23.10" fill="#e6e6e6"/>
<rect x="351.00" y="453.80" width="1.00" height="23.10" fill="#646464"/>
<rect x="352.00" y="453.80" width="1.00" height="23.10" fill="#505050"/>
<rect x="353.00" y="453.80" width="1.00" height="23.10" fill="#c8c8c8"/>
<rect x="354.00" y="453.80" width="1.00" height="23.10" fill="#969696"/>
<rect x="355.00" y="453.80" width="1.00" height="23.10" fill="#c8c8c8"/>
<rect x="356.00" y="453.80" width="1.00" height="23.10" fill="#e6e6e6"/>
<rect x="357.00" y="453.80" width="1.00" height="23.10" fill="#969696"/>
<rect x="358.00" y="453.80" width="1.00" height="23.10" fill="#f0f0f0"/>
<rect x="359.00" y="453.80" width="1.00" height="23.10" fill="#c8c8c8"/>
<rect x="360.00" y="453.80" width="1.00" height="23.10" fill="#3c3c3c"/>
<rect x="361.00" y="453.80" width="1.00" height="23.10" fill="#141414"/>
<rect x="362.00" y="453.80" width="1.00" height="23.10" fill="#f0f0f0"/>
<rect x="363.00" y="453.80" width="1.00" height="23.10" fill="#787878"/>
<rect x="364.00" y="453.80" width="1.00" height="23.10" fill="#828282"/>
<rect x="365.00" y="453.80" width="1.00" height="23.10" fill="#f0f0f0"/>
<rect x="367.00" y="453.80" width="1.00" height="23.10" fill="#969696"/>
<rect x="368.00" y="453.80" width="1.00" height="23.10" fill="#a0a0a0"/>
<rect x="369.00" y="453.80" width="1.00" height="23.10" fill="#dcdcdc"/>
<rect x="370.00" y="453.80" width="1.00" height="23.10" fill="#464646"/>
<rect x="371.00" y="453.80" width="1.00" height="23.10" fill="#c8c8c8"/>
<rect x="373.00" y="453.80" width="1.00" height="23.10" fill="#e6e6e6"/>
<rect x="374.00" y="453.80" width="1.00" height="23.10" fill="#b4b4b4"/>
<rect x="375.00" y="453.80" width="1.00" height="23.10" fill="#3c3c3c"/>
<rect x="376.00" y="453.80" width="1.00" height="23.10" fill="#323232"/>
<rect x="377.00" y="453.80" width="1.00" height="23.10" fill="#3c3c3c"/>
<rect x="378.00" y="453.80" width="1.00" height="23.10" fill="#6e6e6e"/>
<rect x="379.00" y="453.80" width="1.00" height="23.10" fill="#505050"/>
<rect x="380.00" y="453.80" width="1.00" height="23.10" fill="#3c3c3c"/>
<rect x="381.00" y="453.80" width="1.00" height="23.10" fill="#e6e6e6"/>
<rect x="387.00" y="453.80" width="1.00" height="23.10" fill="#c8c8c8"/>
<rect x="388.00" y="453.80" width="1.00" height="23.10" fill="#969696"/>
<rect x="389.00" y="453.80" width="1.00" height="23.10" fill="#c8c8c8"/>
<rect x="390.00" y="453.80" width="1.00" height="23.10" fill="#a0a0a0"/>
<rect x="393.00" y="453.80" width="1.00" height="23.10" fill="#969696"/>
<rect x="394.00" y="453.80" width="1.00" height="23.10" fill="#828282"/>
<rect x="402.00" y="453.80" width="1.00" height="23.10" fill="#c8c8c8"/>
<rect x="403.00" y="453.80" width="1.00" height="23.10" fill="#bebebe"/>
<rect x="406.00" y="453.80" width="1.00" height="23.10" fill="#f0f0f0"/>
<rect x="407.00" y="453.80" width="1.00" height="23.10" fill="#8c8c8c"/>
<rect x="408.00" y="453.80" width="1.00" height="23.10" fill="#3c3c3c"/>
<rect x="409.00" y="453.80" width="1.00" height="23.10" fill="#3c3c3c"/>
<rect x="410.00" y="453.80" width="1.00" height="23.10" fill="#c8c8c8"/>
<rect x="411.00" y="453.80" width="1.00" height="23.10" fill="#c8c8c8"/>
<rect x="412.00" y="453.80" width="1.00" height="23.10" fill="#dcdcdc"/>
<rect x="415.00" y="453.80" width="1.00" height="23.10" fill="#f0f0f0"/>
<rect x="416.00" y="453.80" width="1.00" height="23.10" fill="#aaaaaa"/>
<rect x="417.00" y="453.80" width="1.00" height="23.10" fill="#828282"/>
<rect x="418.00" y="453.80" width="1.00" height="23.10" fill="#282828"/>
<rect x="419.00" y="453.80" width="1.00" height="23.10" fill="#828282"/>
<rect x="420.00" y="453.80" width="1.00" height="23.10" fill="#c8c8c8"/>
<rect x="421.00" y="453.80" width="1.00" height="23.10" fill="#282828"/>
<rect x="422.00" y="453.80" width="1.00" height="23.10" fill="#282828"/>
<rect x="423.00" y="453.80" width="1.00" height="23.10" fill="#323232"/>
<rect x="424.00" y="453.80" width="1.00" height="23.10" fill="#c8c8c8"/>
<rect x="425.00" y="453.80" width="1.00" height="23.10" fill="#8c8c8c"/>
<rect x="426.00" y="453.80" width="1.00" height="23.10" fill="#505050"/>
<rect x="427.00" y="453.80" width="1.00" height="23.10" fill="#505050"/>
<rect x="428.00" y="453.80" width="1.00" height="23.10" fill="#505050"/>
<rect x="429.00" y="453.80" width="1.00" height="23.10" fill="#6e6e6e"/>
<rect x="430.00" y="453.80" width="1.00" height="23.10" fill="#a0a0a0"/>
<rect x="431.00" y="453.80" width="1.00" height="23.10" fill="#d2d2d2"/>
<rect x="432.00" y="453.80" width="1.00" height="23.10" fill="#e6e6e6"/>
<rect x="433.00" y="453.80" width="1.00" height="23.10" fill="#c8c8c8"/>
<rect x="434.00" y="453.80" width="1.00" height="23.10" fill="#323232"/>
<rect x="435.00" y="453.80" width="1.00" height="23.10" fill="#b4b4b4"/>
<rect x="438.00" y="453.80" width="1.00" height="23.10" fill="#c8c8c8"/>
<rect x="439.00" y="453.80" width="1.00" height="23.10" fill="#e6e6e6"/>
<rect x="440.00" y="453.80" width="1.00" height="23.10" fill="#b4b4b4"/>
<rect x="441.00" y="453.80" width="1.00" height="23.10" fill="#828282"/>
<rect x="442.00" y="453.80" width="1.00" height="23.10" fill="#3c3c3c"/>
<rect x="443.00" y="453.80" width="1.00" height="23.10" fill="#141414"/>
<rect x="444.00" y="453.80" width="1.00" height="23.10" fill="#828282"/>
<rect x="445.00" y="453.80" width="1.00" height="23.10" fill="#505050"/>
<rect x="446.00" y="453.80" width="1.00" height="23.10" fill="#3c3c3c"/>
<rect x="447.00" y="453.80" width="1.00" height="23.10" fill="#787878"/>
<rect x="448.00" y="453.80" width="1.00" height="23.10" fill="#505050"/>
<rect x="449.00" y="453.80" width="1.00" height="23.10" fill="#c8c8c8"/>
<rect x="450.00" y="453.80" width="1.00" height="23.10" fill="#5a5a5a"/>
<rect x="451.00" y="453.80" width="1.00" height="23.10" fill="#3c3c3c"/>
<rect x="452.00" y="453.80" width="1.00" height="23.10" fill="#787878"/>
<rect x="453.00" y="453.80" width="1.00" height="23.10" fill="#c8c8c8"/>
<rect x="454.00" y="453.80" width="1.00" height="23.10" fill="#1e1e1e"/>
<rect x="455.00" y="453.80" width="1.00" height="23.10" fill="#5a5a5a"/>
<rect x="456.00" y="453.80" width="1.00" height="23.10" fill="#e6e6e6"/>
<rect x="457.00" y="453.80" width="1.00" height="23.10" fill="#3c3c3c"/>
<rect x="458.00" y="453.80" width="1.00" height="23.10" fill="#282828"/>
<rect x="459.00" y="453.80" width="1.00" height="23.10" fill="#3c3c3c"/>
<rect x="460.00" y="453.80" width="1.00" height="23.10" fill="#969696"/>
<rect x="461.00" y="453.80" width="1.00" height="23.10" fill="#3c3c3c"/>
<rect x="462.00" y="453.80" width="1.00" height="23.10" fill="#505050"/>
<rect x="463.00" y="453.80" width="1.00" height="23.10" fill="#787878"/>
<rect x="464.00" y="453.80" width="1.00" height="23.10" fill="#c8c8c8"/>
<rect x="465.00" y="453.80" width="1.00" height="23.10" fill="#828282"/>
<rect x="466.00" y="453.80" width="1.00" height="23.10" fill="#464646"/>
<rect x="467.00" y="453.80" width="1.00" height="23.10" fill="#a0a0a0"/>
<rect x="468.00" y="453.80" width="1.00" height="23.10" fill="#d2d2d2"/>
<rect x="469.00" y="453.80" width="1.00" height="23.10" fill="#c8c8c8"/>
<rect x="470.00" y="453.80" width="1.00" height="23.10" fill="#a0a0a0"/>
<rect x="471.00" y="453.80" width="1.00" height="23.10" fill="#aaaaaa"/>
<rect x="472.00" y="453.80" width="1.00" height="23.10" fill="#8c8c8c"/>
<rect x="473.00" y="453.80" width="1.00" height="23.10" fill="#aaaaaa"/>
<rect x="474.00" y="453.80" width="1.00" height="23.10" fill="#828282"/>
<linearGradient id="g511" x1="0" x2="1" y1="0" y2="0"><stop offset="0" stop-color="#f04646"/><stop offset="1" stop-color="#f07684"/></linearGradient>
<rect x="320.00" y="476.90" width="49.60" height="4.00" fill="url(#g511)"/>
<linearGradient id="g513" x1="0" x2="1" y1="0" y2="0"><stop offset="0" stop-color="#f8b6e2"/><stop offset="1" stop-color="#f8b8e4"/></linearGradient>
<rect x="369.60" y="476.90" width="38.00" height="4.00" fill="url(#g513)"/>
<linearGradient id="g515" x1="0" x2="1" y1="0" y2="0"><stop offset="0" stop-color="#d2d2f8"/><stop offset="1" stop-color="#b0aef4"/></linearGradient>
<rect x="407.60" y="476.90" width="34.70" height="4.00" fill="url(#g515)"/>
<linearGradient id="g517" x1="0" x2="1" y1="0" y2="0"><stop offset="0" stop-color="#7a74ee"/><stop offset="1" stop-color="#5040e0"/></linearGradient>
<rect x="442.30" y="476.90" width="27.70" height="4.00" fill="url(#g517)"/>
<linearGradient id="g519" x1="0" x2="1" y1="0" y2="0"><stop offset="0" stop-color="#2a08c8"/><stop offset="1" stop-color="#2000c4"/></linearGradient>
<rect x="470.00" y="476.90" width="5.50" height="4.00" fill="url(#g519)"/>
<polyline points="319.8,399.0 321.3,401.0 321.9,395.8 323.8,394.2 326.2,389.4 328.1,390.4 330.0,392.7 331.5,386.9 333.8,386.2 335.8,385.6 338.7,386.9 341.5,388.1 344.4,386.5 347.7,383.8 350.2,385.6 352.7,386.5 356.0,388.5 360.8,391.9 364.6,393.3 370.4,397.4 379.2,403.8 388.5,411.9 397.7,421.2 406.9,430.4 416.2,439.2 425.4,444.2 434.6,447.7 440.4,448.9 443.8,445.4 446.2,441.9 449.6,438.5 454.2,435.5 456.5,431.5 458.8,425.8 461.2,421.2 463.5,415.4 465.8,410.8 468.1,407.3 470.4,406.2 472.5,406.0 473.8,401.5 475.7,397.4" fill="none" stroke="#00ff00" stroke-width="1.6" stroke-linejoin="round"/>
<rect x="319.40" y="381.00" width="164.40" height="100.60" fill="none" stroke="#000" stroke-width="1.3"/>
<line x1="315.20" y1="383.80" x2="319.40" y2="383.80" stroke="#000" stroke-width="1.0"/>
<text x="312.30" y="386.05" font-size="6.6" fill="#333" stroke="#333" stroke-width="0.05" text-anchor="end" textLength="11.40" lengthAdjust="spacingAndGlyphs">0.10</text>
<line x1="315.20" y1="391.18" x2="319.40" y2="391.18" stroke="#000" stroke-width="1.0"/>
<text x="312.30" y="393.43" font-size="6.6" fill="#333" stroke="#333" stroke-width="0.05" text-anchor="end" textLength="11.40" lengthAdjust="spacingAndGlyphs">0.05</text>
<line x1="315.20" y1="398.56" x2="319.40" y2="398.56" stroke="#000" stroke-width="1.0"/>
<text x="312.30" y="400.81" font-size="6.6" fill="#333" stroke="#333" stroke-width="0.05" text-anchor="end" textLength="11.40" lengthAdjust="spacingAndGlyphs">0.00</text>
<line x1="315.20" y1="405.94" x2="319.40" y2="405.94" stroke="#000" stroke-width="1.0"/>
<text x="312.30" y="408.19" font-size="6.6" fill="#333" stroke="#333" stroke-width="0.05" text-anchor="end" textLength="12.54" lengthAdjust="spacingAndGlyphs">-0.05</text>
<line x1="315.20" y1="413.32" x2="319.40" y2="413.32" stroke="#000" stroke-width="1.0"/>
<text x="312.30" y="415.57" font-size="6.6" fill="#333" stroke="#333" stroke-width="0.05" text-anchor="end" textLength="12.54" lengthAdjust="spacingAndGlyphs">-0.10</text>
<line x1="315.20" y1="420.70" x2="319.40" y2="420.70" stroke="#000" stroke-width="1.0"/>
<text x="312.30" y="422.95" font-size="6.6" fill="#333" stroke="#333" stroke-width="0.05" text-anchor="end" textLength="12.54" lengthAdjust="spacingAndGlyphs">-0.15</text>
<line x1="315.20" y1="428.08" x2="319.40" y2="428.08" stroke="#000" stroke-width="1.0"/>
<text x="312.30" y="430.33" font-size="6.6" fill="#333" stroke="#333" stroke-width="0.05" text-anchor="end" textLength="12.54" lengthAdjust="spacingAndGlyphs">-0.20</text>
<line x1="315.20" y1="435.46" x2="319.40" y2="435.46" stroke="#000" stroke-width="1.0"/>
<text x="312.30" y="437.71" font-size="6.6" fill="#333" stroke="#333" stroke-width="0.05" text-anchor="end" textLength="12.54" lengthAdjust="spacingAndGlyphs">-0.25</text>
<line x1="315.20" y1="442.84" x2="319.40" y2="442.84" stroke="#000" stroke-width="1.0"/>
<text x="312.30" y="445.09" font-size="6.6" fill="#333" stroke="#333" stroke-width="0.05" text-anchor="end" textLength="12.54" lengthAdjust="spacingAndGlyphs">-0.30</text>
<line x1="315.20" y1="450.22" x2="319.40" y2="450.22" stroke="#000" stroke-width="1.0"/>
<text x="312.30" y="452.47" font-size="6.6" fill="#333" stroke="#333" stroke-width="0.05" text-anchor="end" textLength="12.54" lengthAdjust="spacingAndGlyphs">-0.35</text>
<text x="296.00" y="417.30" font-size="8.8" fill="#2a2a2a" stroke="#2a2a2a" stroke-width="0.15" text-anchor="middle" textLength="59.60" lengthAdjust="spacingAndGlyphs" transform="rotate(-90 296.00 417.30)">Enrichment score (ES)</text>
<text x="371.20" y="366.30" font-size="8.7" fill="#1a1a1a" stroke="#1a1a1a" stroke-width="0.08" textLength="59.80" lengthAdjust="spacingAndGlyphs">Enrichment plot:</text>
<text x="323.20" y="375.20" font-size="8.7" fill="#1a1a1a" stroke="#1a1a1a" stroke-width="0.08" textLength="155.20" lengthAdjust="spacingAndGlyphs">HALLMARK_TNFA_SIGNALING_VIA_NFKB</text>
<text x="412.70" y="393.00" font-size="9.3" fill="#1a1a1a" stroke="#1a1a1a" stroke-width="0.12" textLength="50.30" lengthAdjust="spacingAndGlyphs">NES = -1.29</text>
<text x="412.70" y="404.30" font-size="9.3" fill="#1a1a1a" stroke="#1a1a1a" stroke-width="0.12" textLength="39.20" lengthAdjust="spacingAndGlyphs">P = 0.035</text>
<text x="412.70" y="415.40" font-size="9.3" fill="#1a1a1a" stroke="#1a1a1a" stroke-width="0.12" textLength="46.80" lengthAdjust="spacingAndGlyphs">FDR = 0.22</text>
<text x="293.80" y="496.20" font-size="7.8" fill="#2a2a2a" stroke="#2a2a2a" stroke-width="0.3" font-style="italic" textLength="45.40" lengthAdjust="spacingAndGlyphs">CALRdel52;Calr</text>
<text x="339.60" y="492.90" font-size="5.4" fill="#333" stroke="#333" stroke-width="0.15" font-style="italic" textLength="5.90" lengthAdjust="spacingAndGlyphs">+/+</text>
<text x="459.20" y="496.20" font-size="7.8" fill="#2a2a2a" stroke="#2a2a2a" stroke-width="0.3" font-style="italic" textLength="44.30" lengthAdjust="spacingAndGlyphs">CALRdel52;Calr</text>
<text x="503.90" y="492.90" font-size="5.4" fill="#333" stroke="#333" stroke-width="0.15" font-style="italic" textLength="5.90" lengthAdjust="spacingAndGlyphs">+/-</text>
<line x1="319.40" y1="542.70" x2="483.80" y2="542.70" stroke="#f2f2f2" stroke-width="0.7"/>
<line x1="319.40" y1="556.72" x2="483.80" y2="556.72" stroke="#f2f2f2" stroke-width="0.7"/>
<line x1="319.40" y1="563.73" x2="483.80" y2="563.73" stroke="#f2f2f2" stroke-width="0.7"/>
<line x1="319.40" y1="570.74" x2="483.80" y2="570.74" stroke="#f2f2f2" stroke-width="0.7"/>
<line x1="319.40" y1="577.75" x2="483.80" y2="577.75" stroke="#f2f2f2" stroke-width="0.7"/>
<line x1="319.40" y1="584.76" x2="483.80" y2="584.76" stroke="#f2f2f2" stroke-width="0.7"/>
<line x1="319.40" y1="591.77" x2="483.80" y2="591.77" stroke="#f2f2f2" stroke-width="0.7"/>
<line x1="319.40" y1="598.78" x2="483.80" y2="598.78" stroke="#f2f2f2" stroke-width="0.7"/>
<line x1="319.40" y1="605.79" x2="483.80" y2="605.79" stroke="#f2f2f2" stroke-width="0.7"/>
<line x1="348.80" y1="539.00" x2="348.80" y2="610.90" stroke="#f2f2f2" stroke-width="0.7"/>
<line x1="378.70" y1="539.00" x2="378.70" y2="610.90" stroke="#f2f2f2" stroke-width="0.7"/>
<line x1="408.60" y1="539.00" x2="408.60" y2="610.90" stroke="#f2f2f2" stroke-width="0.7"/>
<line x1="438.50" y1="539.00" x2="438.50" y2="610.90" stroke="#f2f2f2" stroke-width="0.7"/>
<line x1="468.40" y1="539.00" x2="468.40" y2="610.90" stroke="#f2f2f2" stroke-width="0.7"/>
<line x1="319.40" y1="610.40" x2="483.80" y2="610.40" stroke="#dcdcdc" stroke-width="0.8"/>
<line x1="319.40" y1="549.70" x2="483.80" y2="549.70" stroke="#b8b8b8" stroke-width="0.8"/>
<rect x="326.00" y="610.90" width="1.00" height="23.30" fill="#f0f0f0"/>
<rect x="327.00" y="610.90" width="1.00" height="23.30" fill="#8c8c8c"/>
<rect x="332.00" y="610.90" width="1.00" height="23.30" fill="#6e6e6e"/>
<rect x="333.00" y="610.90" width="1.00" height="23.30" fill="#787878"/>
<rect x="334.00" y="610.90" width="1.00" height="23.30" fill="#f0f0f0"/>
<rect x="335.00" y="610.90" width="1.00" height="23.30" fill="#c8c8c8"/>
<rect x="336.00" y="610.90" width="1.00" height="23.30" fill="#5a5a5a"/>
<rect x="337.00" y="610.90" width="1.00" height="23.30" fill="#828282"/>
<rect x="338.00" y="610.90" width="1.00" height="23.30" fill="#f0f0f0"/>
<rect x="339.00" y="610.90" width="1.00" height="23.30" fill="#b4b4b4"/>
<rect x="340.00" y="610.90" width="1.00" height="23.30" fill="#969696"/>
<rect x="341.00" y="610.90" width="1.00" height="23.30" fill="#969696"/>
<rect x="342.00" y="610.90" width="1.00" height="23.30" fill="#8c8c8c"/>
<rect x="343.00" y="610.90" width="1.00" height="23.30" fill="#969696"/>
<rect x="344.00" y="610.90" width="1.00" height="23.30" fill="#505050"/>
<rect x="345.00" y="610.90" width="1.00" height="23.30" fill="#dcdcdc"/>
<rect x="346.00" y="610.90" width="1.00" height="23.30" fill="#1e1e1e"/>
<rect x="347.00" y="610.90" width="1.00" height="23.30" fill="#787878"/>
<rect x="348.00" y="610.90" width="1.00" height="23.30" fill="#e6e6e6"/>
<rect x="349.00" y="610.90" width="1.00" height="23.30" fill="#aaaaaa"/>
<rect x="350.00" y="610.90" width="1.00" height="23.30" fill="#3c3c3c"/>
<rect x="351.00" y="610.90" width="1.00" height="23.30" fill="#8c8c8c"/>
<rect x="352.00" y="610.90" width="1.00" height="23.30" fill="#dcdcdc"/>
<rect x="353.00" y="610.90" width="1.00" height="23.30" fill="#646464"/>
<rect x="354.00" y="610.90" width="1.00" height="23.30" fill="#969696"/>
<rect x="355.00" y="610.90" width="1.00" height="23.30" fill="#dcdcdc"/>
<rect x="356.00" y="610.90" width="1.00" height="23.30" fill="#505050"/>
<rect x="357.00" y="610.90" width="1.00" height="23.30" fill="#646464"/>
<rect x="358.00" y="610.90" width="1.00" height="23.30" fill="#3c3c3c"/>
<rect x="359.00" y="610.90" width="1.00" height="23.30" fill="#dcdcdc"/>
<rect x="360.00" y="610.90" width="1.00" height="23.30" fill="#b4b4b4"/>
<rect x="361.00" y="610.90" width="1.00" height="23.30" fill="#141414"/>
<rect x="362.00" y="610.90" width="1.00" height="23.30" fill="#1e1e1e"/>
<rect x="363.00" y="610.90" width="1.00" height="23.30" fill="#c8c8c8"/>
<rect x="364.00" y="610.90" width="1.00" height="23.30" fill="#dcdcdc"/>
<rect x="365.00" y="610.90" width="1.00" height="23.30" fill="#787878"/>
<rect x="366.00" y="610.90" width="1.00" height="23.30" fill="#828282"/>
<rect x="367.00" y="610.90" width="1.00" height="23.30" fill="#8c8c8c"/>
<rect x="368.00" y="610.90" width="1.00" height="23.30" fill="#f0f0f0"/>
<rect x="369.00" y="610.90" width="1.00" height="23.30" fill="#8c8c8c"/>
<rect x="370.00" y="610.90" width="1.00" height="23.30" fill="#828282"/>
<rect x="371.00" y="610.90" width="1.00" height="23.30" fill="#787878"/>
<rect x="372.00" y="610.90" width="1.00" height="23.30" fill="#3c3c3c"/>
<rect x="373.00" y="610.90" width="1.00" height="23.30" fill="#828282"/>
<rect x="374.00" y="610.90" width="1.00" height="23.30" fill="#dcdcdc"/>
<rect x="375.00" y="610.90" width="1.00" height="23.30" fill="#323232"/>
<rect x="376.00" y="610.90" width="1.00" height="23.30" fill="#3c3c3c"/>
<rect x="377.00" y="610.90" width="1.00" height="23.30" fill="#464646"/>
<rect x="378.00" y="610.90" width="1.00" height="23.30" fill="#505050"/>
<rect x="379.00" y="610.90" width="1.00" height="23.30" fill="#505050"/>
<rect x="380.00" y="610.90" width="1.00" height="23.30" fill="#5a5a5a"/>
<rect x="390.00" y="610.90" width="1.00" height="23.30" fill="#a0a0a0"/>
<rect x="407.00" y="610.90" width="1.00" height="23.30" fill="#969696"/>
<rect x="408.00" y="610.90" width="1.00" height="23.30" fill="#787878"/>
<rect x="409.00" y="610.90" width="1.00" height="23.30" fill="#c8c8c8"/>
<rect x="412.00" y="610.90" width="1.00" height="23.30" fill="#c8c8c8"/>
<rect x="413.00" y="610.90" width="1.00" height="23.30" fill="#1e1e1e"/>
<rect x="414.00" y="610.90" width="1.00" height="23.30" fill="#c8c8c8"/>
<rect x="415.00" y="610.90" width="1.00" height="23.30" fill="#b4b4b4"/>
<rect x="416.00" y="610.90" width="1.00" height="23.30" fill="#505050"/>
<rect x="417.00" y="610.90" width="1.00" height="23.30" fill="#969696"/>
<rect x="418.00" y="610.90" width="1.00" height="23.30" fill="#646464"/>
<rect x="419.00" y="610.90" width="1.00" height="23.30" fill="#464646"/>
<rect x="420.00" y="610.90" width="1.00" height="23.30" fill="#5a5a5a"/>
<rect x="421.00" y="610.90" width="1.00" height="23.30" fill="#c8c8c8"/>
<rect x="422.00" y="610.90" width="1.00" height="23.30" fill="#141414"/>
<rect x="423.00" y="610.90" width="1.00" height="23.30" fill="#0a0a0a"/>
<rect x="424.00" y="610.90" width="1.00" height="23.30" fill="#3c3c3c"/>
<rect x="425.00" y="610.90" width="1.00" height="23.30" fill="#787878"/>
<rect x="426.00" y="610.90" width="1.00" height="23.30" fill="#8c8c8c"/>
<rect x="427.00" y="610.90" width="1.00" height="23.30" fill="#a0a0a0"/>
<rect x="428.00" y="610.90" width="1.00" height="23.30" fill="#c8c8c8"/>
<rect x="429.00" y="610.90" width="1.00" height="23.30" fill="#8c8c8c"/>
<rect x="430.00" y="610.90" width="1.00" height="23.30" fill="#646464"/>
<rect x="431.00" y="610.90" width="1.00" height="23.30" fill="#828282"/>
<rect x="436.00" y="610.90" width="1.00" height="23.30" fill="#c8c8c8"/>
<rect x="437.00" y="610.90" width="1.00" height="23.30" fill="#646464"/>
<rect x="438.00" y="610.90" width="1.00" height="23.30" fill="#646464"/>
<rect x="439.00" y="610.90" width="1.00" height="23.30" fill="#e6e6e6"/>
<rect x="440.00" y="610.90" width="1.00" height="23.30" fill="#c8c8c8"/>
<rect x="441.00" y="610.90" width="1.00" height="23.30" fill="#141414"/>
<rect x="442.00" y="610.90" width="1.00" height="23.30" fill="#787878"/>
<rect x="443.00" y="610.90" width="1.00" height="23.30" fill="#505050"/>
<rect x="444.00" y="610.90" width="1.00" height="23.30" fill="#505050"/>
<rect x="445.00" y="610.90" width="1.00" height="23.30" fill="#505050"/>
<rect x="446.00" y="610.90" width="1.00" height="23.30" fill="#969696"/>
<rect x="447.00" y="610.90" width="1.00" height="23.30" fill="#969696"/>
<rect x="448.00" y="610.90" width="1.00" height="23.30" fill="#8c8c8c"/>
<rect x="449.00" y="610.90" width="1.00" height="23.30" fill="#a0a0a0"/>
<rect x="450.00" y="610.90" width="1.00" height="23.30" fill="#282828"/>
<rect x="451.00" y="610.90" width="1.00" height="23.30" fill="#e6e6e6"/>
<rect x="452.00" y="610.90" width="1.00" height="23.30" fill="#e6e6e6"/>
<rect x="453.00" y="610.90" width="1.00" height="23.30" fill="#b4b4b4"/>
<rect x="454.00" y="610.90" width="1.00" height="23.30" fill="#f0f0f0"/>
<rect x="455.00" y="610.90" width="1.00" height="23.30" fill="#e6e6e6"/>
<rect x="456.00" y="610.90" width="1.00" height="23.30" fill="#828282"/>
<rect x="457.00" y="610.90" width="1.00" height="23.30" fill="#141414"/>
<rect x="458.00" y="610.90" width="1.00" height="23.30" fill="#3c3c3c"/>
<rect x="459.00" y="610.90" width="1.00" height="23.30" fill="#969696"/>
<rect x="460.00" y="610.90" width="1.00" height="23.30" fill="#969696"/>
<rect x="461.00" y="610.90" width="1.00" height="23.30" fill="#e6e6e6"/>
<rect x="462.00" y="610.90" width="1.00" height="23.30" fill="#a0a0a0"/>
<rect x="463.00" y="610.90" width="1.00" height="23.30" fill="#464646"/>
<rect x="464.00" y="610.90" width="1.00" height="23.30" fill="#646464"/>
<rect x="465.00" y="610.90" width="1.00" height="23.30" fill="#c8c8c8"/>
<rect x="466.00" y="610.90" width="1.00" height="23.30" fill="#f0f0f0"/>
<rect x="467.00" y="610.90" width="1.00" height="23.30" fill="#969696"/>
<rect x="468.00" y="610.90" width="1.00" height="23.30" fill="#646464"/>
<rect x="469.00" y="610.90" width="1.00" height="23.30" fill="#828282"/>
<rect x="470.00" y="610.90" width="1.00" height="23.30" fill="#a0a0a0"/>
<rect x="471.00" y="610.90" width="1.00" height="23.30" fill="#c8c8c8"/>
<rect x="472.00" y="610.90" width="1.00" height="23.30" fill="#787878"/>
<rect x="473.00" y="610.90" width="1.00" height="23.30" fill="#141414"/>
<rect x="474.00" y="610.90" width="1.00" height="23.30" fill="#969696"/>
<rect x="475.00" y="610.90" width="1.00" height="23.30" fill="#c8c8c8"/>
<linearGradient id="g684" x1="0" x2="1" y1="0" y2="0"><stop offset="0" stop-color="#f04646"/><stop offset="1" stop-color="#f07684"/></linearGradient>
<rect x="320.00" y="634.20" width="49.20" height="4.50" fill="url(#g684)"/>
<linearGradient id="g686" x1="0" x2="1" y1="0" y2="0"><stop offset="0" stop-color="#f8b6e2"/><stop offset="1" stop-color="#f8b8e4"/></linearGradient>
<rect x="369.20" y="634.20" width="38.00" height="4.50" fill="url(#g686)"/>
<linearGradient id="g688" x1="0" x2="1" y1="0" y2="0"><stop offset="0" stop-color="#d2d2f8"/><stop offset="1" stop-color="#b0aef4"/></linearGradient>
<rect x="407.20" y="634.20" width="35.00" height="4.50" fill="url(#g688)"/>
<linearGradient id="g690" x1="0" x2="1" y1="0" y2="0"><stop offset="0" stop-color="#7a74ee"/><stop offset="1" stop-color="#5040e0"/></linearGradient>
<rect x="442.20" y="634.20" width="27.80" height="4.50" fill="url(#g690)"/>
<linearGradient id="g692" x1="0" x2="1" y1="0" y2="0"><stop offset="0" stop-color="#2a08c8"/><stop offset="1" stop-color="#2000c4"/></linearGradient>
<rect x="470.00" y="634.20" width="5.50" height="4.50" fill="url(#g692)"/>
<polyline points="319.8,542.3 322.3,545.6 325.2,548.1 328.1,549.4 331.9,552.3 333.8,550.0 335.8,550.8 337.7,548.8 341.5,549.6 345.4,550.0 347.3,548.8 351.2,550.4 355.0,551.9 358.8,552.7 362.7,552.3 366.5,554.6 372.3,557.7 379.2,562.7 388.5,570.8 397.7,578.8 406.9,586.9 416.2,595.0 423.1,597.8 430.0,601.5 435.8,604.9 439.2,606.5 442.7,603.8 446.2,602.4 450.8,601.5 455.4,600.8 457.7,598.5 460.0,594.5 463.5,591.5 465.8,588.1 468.1,583.5 469.2,577.7 471.5,571.9 473.4,562.7 474.3,555.8 475.7,549.3" fill="none" stroke="#00ff00" stroke-width="1.6" stroke-linejoin="round"/>
<rect x="319.40" y="539.00" width="164.40" height="100.50" fill="none" stroke="#000" stroke-width="1.3"/>
<line x1="315.20" y1="542.70" x2="319.40" y2="542.70" stroke="#000" stroke-width="1.0"/>
<text x="312.30" y="544.95" font-size="6.6" fill="#333" stroke="#333" stroke-width="0.05" text-anchor="end" textLength="11.40" lengthAdjust="spacingAndGlyphs">0.05</text>
<line x1="315.20" y1="549.71" x2="319.40" y2="549.71" stroke="#000" stroke-width="1.0"/>
<text x="312.30" y="551.96" font-size="6.6" fill="#333" stroke="#333" stroke-width="0.05" text-anchor="end" textLength="11.40" lengthAdjust="spacingAndGlyphs">0.00</text>
<line x1="315.20" y1="556.72" x2="319.40" y2="556.72" stroke="#000" stroke-width="1.0"/>
<text x="312.30" y="558.97" font-size="6.6" fill="#333" stroke="#333" stroke-width="0.05" text-anchor="end" textLength="12.54" lengthAdjust="spacingAndGlyphs">-0.05</text>
<line x1="315.20" y1="563.73" x2="319.40" y2="563.73" stroke="#000" stroke-width="1.0"/>
<text x="312.30" y="565.98" font-size="6.6" fill="#333" stroke="#333" stroke-width="0.05" text-anchor="end" textLength="12.54" lengthAdjust="spacingAndGlyphs">-0.10</text>
<line x1="315.20" y1="570.74" x2="319.40" y2="570.74" stroke="#000" stroke-width="1.0"/>
<text x="312.30" y="572.99" font-size="6.6" fill="#333" stroke="#333" stroke-width="0.05" text-anchor="end" textLength="12.54" lengthAdjust="spacingAndGlyphs">-0.15</text>
<line x1="315.20" y1="577.75" x2="319.40" y2="577.75" stroke="#000" stroke-width="1.0"/>
<text x="312.30" y="580.00" font-size="6.6" fill="#333" stroke="#333" stroke-width="0.05" text-anchor="end" textLength="12.54" lengthAdjust="spacingAndGlyphs">-0.20</text>
<line x1="315.20" y1="584.76" x2="319.40" y2="584.76" stroke="#000" stroke-width="1.0"/>
<text x="312.30" y="587.01" font-size="6.6" fill="#333" stroke="#333" stroke-width="0.05" text-anchor="end" textLength="12.54" lengthAdjust="spacingAndGlyphs">-0.25</text>
<line x1="315.20" y1="591.77" x2="319.40" y2="591.77" stroke="#000" stroke-width="1.0"/>
<text x="312.30" y="594.02" font-size="6.6" fill="#333" stroke="#333" stroke-width="0.05" text-anchor="end" textLength="12.54" lengthAdjust="spacingAndGlyphs">-0.30</text>
<line x1="315.20" y1="598.78" x2="319.40" y2="598.78" stroke="#000" stroke-width="1.0"/>
<text x="312.30" y="601.03" font-size="6.6" fill="#333" stroke="#333" stroke-width="0.05" text-anchor="end" textLength="12.54" lengthAdjust="spacingAndGlyphs">-0.35</text>
<line x1="315.20" y1="605.79" x2="319.40" y2="605.79" stroke="#000" stroke-width="1.0"/>
<text x="312.30" y="608.04" font-size="6.6" fill="#333" stroke="#333" stroke-width="0.05" text-anchor="end" textLength="12.54" lengthAdjust="spacingAndGlyphs">-0.40</text>
<text x="296.00" y="574.20" font-size="8.8" fill="#2a2a2a" stroke="#2a2a2a" stroke-width="0.15" text-anchor="middle" textLength="60.00" lengthAdjust="spacingAndGlyphs" transform="rotate(-90 296.00 574.20)">Enrichment score (ES)</text>
<text x="372.30" y="524.40" font-size="8.7" fill="#1a1a1a" stroke="#1a1a1a" stroke-width="0.08" textLength="58.90" lengthAdjust="spacingAndGlyphs">Enrichment plot:</text>
<text x="313.50" y="533.40" font-size="8.7" fill="#1a1a1a" stroke="#1a1a1a" stroke-width="0.08" textLength="175.80" lengthAdjust="spacingAndGlyphs">HALLMARK_INTERFERON_GAMMA_RESPONSE</text>
<text x="412.70" y="558.50" font-size="9.3" fill="#1a1a1a" stroke="#1a1a1a" stroke-width="0.12" textLength="49.60" lengthAdjust="spacingAndGlyphs">NES = -1.51</text>
<text x="412.70" y="569.60" font-size="9.3" fill="#1a1a1a" stroke="#1a1a1a" stroke-width="0.12" textLength="39.70" lengthAdjust="spacingAndGlyphs">P = 0.002</text>
<text x="412.70" y="580.70" font-size="9.3" fill="#1a1a1a" stroke="#1a1a1a" stroke-width="0.12" textLength="46.80" lengthAdjust="spacingAndGlyphs">FDR = 0.19</text>
<text x="293.80" y="653.50" font-size="7.8" fill="#2a2a2a" stroke="#2a2a2a" stroke-width="0.3" font-style="italic" textLength="45.40" lengthAdjust="spacingAndGlyphs">CALRdel52;Calr</text>
<text x="339.60" y="650.20" font-size="5.4" fill="#333" stroke="#333" stroke-width="0.15" font-style="italic" textLength="5.90" lengthAdjust="spacingAndGlyphs">+/+</text>
<text x="459.00" y="653.50" font-size="7.8" fill="#2a2a2a" stroke="#2a2a2a" stroke-width="0.3" font-style="italic" textLength="44.50" lengthAdjust="spacingAndGlyphs">CALRdel52;Calr</text>
<text x="503.90" y="650.20" font-size="5.4" fill="#333" stroke="#333" stroke-width="0.15" font-style="italic" textLength="5.90" lengthAdjust="spacingAndGlyphs">+/-</text>
<text x="9.40" y="20.60" font-size="15.2" fill="#000" stroke="#000" stroke-width="0.22" font-weight="bold" textLength="7.60" lengthAdjust="spacingAndGlyphs">E</text>
<text x="9.90" y="194.30" font-size="14.6" fill="#000" stroke="#000" stroke-width="0.22" font-weight="bold" textLength="6.90" lengthAdjust="spacingAndGlyphs">F</text>
<text x="68.40" y="211.40" font-size="11.6" fill="#1a1a1a" stroke="#1a1a1a" stroke-width="0.22" textLength="167.00" lengthAdjust="spacingAndGlyphs">Hallmark gene sets significantly</text>
<text x="70.20" y="227.00" font-size="11.6" fill="#1a1a1a" stroke="#1a1a1a" stroke-width="0.22" textLength="62.30" lengthAdjust="spacingAndGlyphs">Enriched vs.</text>
<text x="134.20" y="227.00" font-size="11.6" fill="#1a1a1a" stroke="#1a1a1a" stroke-width="0.22" font-style="italic" textLength="84.80" lengthAdjust="spacingAndGlyphs">CALRdel52;Calr</text>
<text x="220.00" y="221.70" font-size="7.4" fill="#1a1a1a" stroke="#1a1a1a" stroke-width="0.22" font-style="italic" textLength="15.20" lengthAdjust="spacingAndGlyphs">+/+</text>
<rect x="68.30" y="241.50" width="34.90" height="18.70" fill="#d98886"/>
<rect x="68.30" y="258.20" width="34.90" height="1.20" fill="#df9d9b"/>
<rect x="68.30" y="260.20" width="34.90" height="19.30" fill="#ebc3c4"/>
<rect x="68.30" y="277.50" width="34.90" height="1.20" fill="#eecdce"/>
<rect x="68.30" y="279.50" width="34.90" height="19.40" fill="#aaaad8"/>
<rect x="68.30" y="296.90" width="34.90" height="1.20" fill="#b9b9df"/>
<rect x="68.30" y="298.90" width="34.90" height="19.40" fill="#a4a4d4"/>
<rect x="68.30" y="316.30" width="34.90" height="1.20" fill="#b4b4db"/>
<rect x="68.30" y="318.30" width="34.90" height="19.40" fill="#a6a6d6"/>
<rect x="68.30" y="335.70" width="34.90" height="1.20" fill="#b6b6dd"/>
<rect x="68.30" y="337.70" width="34.90" height="19.50" fill="#9c9cd0"/>
<rect x="68.30" y="355.20" width="34.90" height="1.20" fill="#adadd8"/>
<rect x="68.30" y="357.20" width="34.90" height="19.50" fill="#9393cb"/>
<rect x="68.30" y="374.70" width="34.90" height="1.20" fill="#a6a6d4"/>
<rect x="68.30" y="376.70" width="34.90" height="19.40" fill="#9797cd"/>
<rect x="68.30" y="394.10" width="34.90" height="1.20" fill="#a9a9d6"/>
<rect x="68.30" y="396.10" width="34.90" height="18.00" fill="#6d6db1"/>
<rect x="68.30" y="412.10" width="34.90" height="1.20" fill="#8787bf"/>
<line x1="68.30" y1="260.20" x2="103.20" y2="260.20" stroke="#111" stroke-width="1.5"/>
<line x1="68.30" y1="279.50" x2="103.20" y2="279.50" stroke="#111" stroke-width="1.5"/>
<line x1="68.30" y1="298.90" x2="103.20" y2="298.90" stroke="#111" stroke-width="1.5"/>
<line x1="68.30" y1="318.30" x2="103.20" y2="318.30" stroke="#111" stroke-width="1.5"/>
<line x1="68.30" y1="337.70" x2="103.20" y2="337.70" stroke="#111" stroke-width="1.5"/>
<line x1="68.30" y1="357.20" x2="103.20" y2="357.20" stroke="#111" stroke-width="1.5"/>
<line x1="68.30" y1="376.70" x2="103.20" y2="376.70" stroke="#111" stroke-width="1.5"/>
<line x1="68.30" y1="396.10" x2="103.20" y2="396.10" stroke="#111" stroke-width="1.5"/>
<rect x="68.30" y="241.50" width="34.90" height="172.60" fill="none" stroke="#111" stroke-width="1.5"/>
<text x="107.70" y="258.30" font-size="9.3" fill="#c8503a" stroke="#c8503a" stroke-width="0.1" textLength="64.80" lengthAdjust="spacingAndGlyphs">E2F_TARGETS</text>
<line x1="107.70" y1="260.50" x2="172.50" y2="260.50" stroke="#c8503a" stroke-width="0.9"/>
<text x="107.70" y="277.50" font-size="9.3" fill="#1a1a1a" stroke="#1a1a1a" stroke-width="0.1" textLength="86.00" lengthAdjust="spacingAndGlyphs">MITOTIC_SPINDLE</text>
<text x="107.70" y="296.00" font-size="9.3" fill="#3b378c" stroke="#3b378c" stroke-width="0.1" textLength="136.40" lengthAdjust="spacingAndGlyphs">TNFA_SIGNALING_VIA_NFKB</text>
<line x1="107.70" y1="298.20" x2="244.10" y2="298.20" stroke="#3b378c" stroke-width="0.9"/>
<text x="107.70" y="315.60" font-size="9.3" fill="#1a1a1a" stroke="#1a1a1a" stroke-width="0.1" textLength="64.70" lengthAdjust="spacingAndGlyphs">MYOGENESIS</text>
<text x="107.70" y="335.20" font-size="9.3" fill="#1a1a1a" stroke="#1a1a1a" stroke-width="0.1" textLength="158.90" lengthAdjust="spacingAndGlyphs">WNT_BETA_CATENIN_SIGNALING</text>
<text x="107.70" y="354.30" font-size="9.3" fill="#1a1a1a" stroke="#1a1a1a" stroke-width="0.1" textLength="104.20" lengthAdjust="spacingAndGlyphs">KRAS_SIGNALING_DN</text>
<text x="107.70" y="373.30" font-size="9.3" fill="#1a1a1a" stroke="#1a1a1a" stroke-width="0.1" textLength="43.60" lengthAdjust="spacingAndGlyphs">HYPOXIA</text>
<text x="107.70" y="392.30" font-size="9.3" fill="#1a1a1a" stroke="#1a1a1a" stroke-width="0.1" textLength="114.50" lengthAdjust="spacingAndGlyphs">PANCREAS_BETA_CELLS</text>
<text x="107.70" y="411.30" font-size="9.3" fill="#3b378c" stroke="#3b378c" stroke-width="0.1" textLength="163.00" lengthAdjust="spacingAndGlyphs">INTERFERON_GAMMA_RESPONSE</text>
<line x1="107.70" y1="413.50" x2="270.70" y2="413.50" stroke="#3b378c" stroke-width="0.9"/>
<text x="35.00" y="297.50" font-size="9.6" fill="#1a1a1a" stroke="#1a1a1a" stroke-width="0.22" textLength="40.00" lengthAdjust="spacingAndGlyphs" transform="rotate(-47 35.00 297.50)">enriched</text>
<text x="24.50" y="384.00" font-size="9.6" fill="#1a1a1a" stroke="#1a1a1a" stroke-width="0.22" textLength="54.00" lengthAdjust="spacingAndGlyphs" transform="rotate(-47 24.50 384.00)">de-enriched</text>
<linearGradient id="gr" x1="0" x2="1" y1="0" y2="0"><stop offset="0" stop-color="#ffffff"/><stop offset="1" stop-color="#ff0000"/></linearGradient>
<linearGradient id="gb" x1="0" x2="1" y1="0" y2="0"><stop offset="0" stop-color="#0000ff"/><stop offset="1" stop-color="#ffffff"/></linearGradient>
<rect x="70.0" y="448.1" width="72.5" height="19.6" fill="url(#gr)" stroke="#222" stroke-width="1.1"/>
<rect x="70.4" y="492.8" width="72.5" height="19.2" fill="url(#gb)" stroke="#222" stroke-width="1.1"/>
<text x="67.60" y="441.90" font-size="9.6" fill="#1a1a1a" stroke="#1a1a1a" stroke-width="0.22" textLength="4.30" lengthAdjust="spacingAndGlyphs">1</text>
<text x="96.90" y="441.90" font-size="9.6" fill="#1a1a1a" stroke="#1a1a1a" stroke-width="0.22" textLength="19.00" lengthAdjust="spacingAndGlyphs">NES</text>
<text x="139.60" y="441.90" font-size="9.6" fill="#1a1a1a" stroke="#1a1a1a" stroke-width="0.22" textLength="5.30" lengthAdjust="spacingAndGlyphs">2</text>
<text x="66.00" y="487.00" font-size="9.6" fill="#1a1a1a" stroke="#1a1a1a" stroke-width="0.22" textLength="9.10" lengthAdjust="spacingAndGlyphs">-2</text>
<text x="138.60" y="487.00" font-size="9.6" fill="#1a1a1a" stroke="#1a1a1a" stroke-width="0.22" textLength="7.80" lengthAdjust="spacingAndGlyphs">-1</text>
<rect x="0.7" y="0.7" width="518.6" height="663.6" fill="none" stroke="#000" stroke-width="1.5"/>
</svg>
</body></html>
